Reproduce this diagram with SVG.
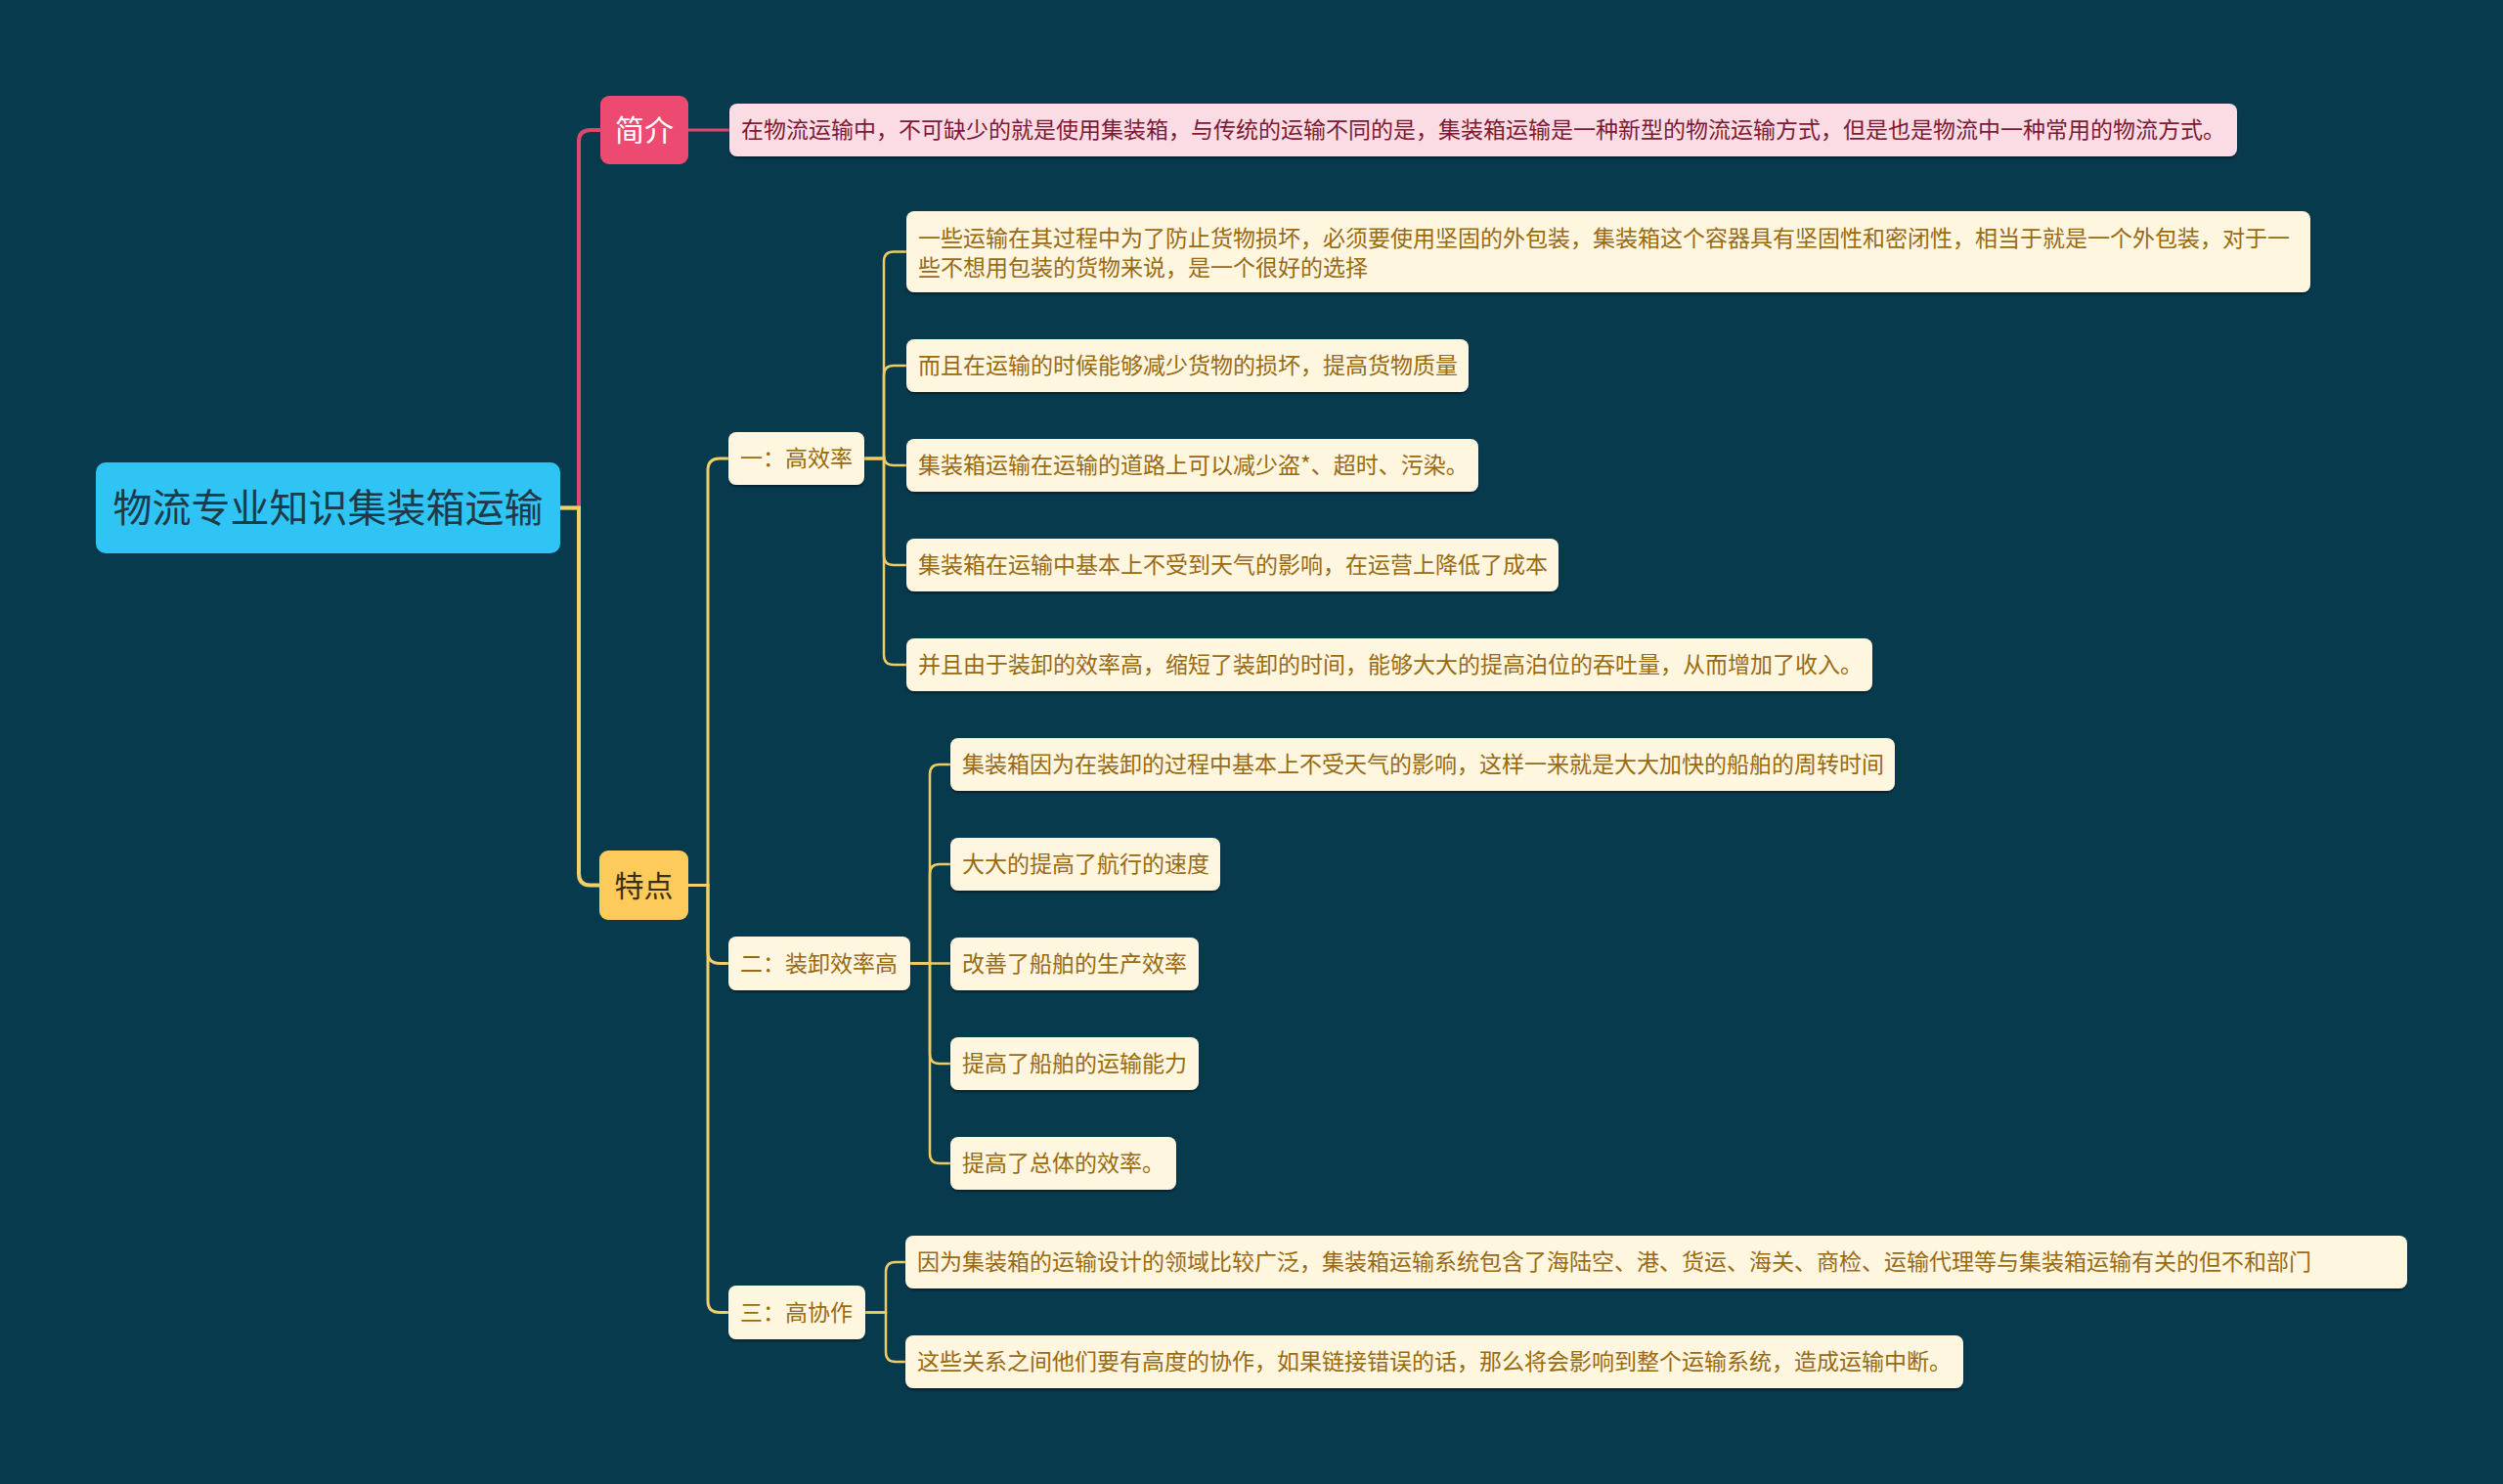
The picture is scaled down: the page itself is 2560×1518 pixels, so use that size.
<svg xmlns="http://www.w3.org/2000/svg" width="2560" height="1518" viewBox="0 0 2560 1518">
<defs>
<filter id="sh" x="-5%" y="-20%" width="110%" height="150%">
<feDropShadow dx="0" dy="2" stdDeviation="1.2" flood-color="#000" flood-opacity="0.45"/>
</filter>
<style>
text{font-family:"Noto Sans CJK SC","Noto Sans",sans-serif;dominant-baseline:central}
.leaf rect{fill:#fef6df;filter:url(#sh)}
.leaf text{font-size:23px;fill:#9a6a12}
.sub rect{fill:#fef6df;filter:url(#sh)}
.sub text{font-size:23px;fill:#9a6a12}
.c1{fill:none;stroke:#f2cf68;stroke-width:4;stroke-linecap:round}
.c2{fill:none;stroke:#f2cf68;stroke-width:3}
.c3{fill:none;stroke:#efcb66;stroke-width:2.5}
.pk{fill:none;stroke:#de476e;stroke-width:4}
.pk2{fill:none;stroke:#de476e;stroke-width:3}
</style>
</defs>
<rect width="2560" height="1518" fill="#083a4e"/>

<g id="connectors">
<path class="pk" d="M573,519.5 H592 V145 Q592,133 604,133 H614"/>
<path class="c1" d="M573,519.5 H592 V893.5 Q592,905.5 604,905.5 H613"/>
<path class="pk2" d="M704,133 H746"/>
<path class="c2" d="M704,905.5 H724 V481 Q724,469 736,469 H745"/>
<path class="c2" d="M704,905.5 H724 V973.5 Q724,985.5 736,985.5 H745"/>
<path class="c2" d="M704,905.5 H724 V1330.5 Q724,1342.5 736,1342.5 H745"/>
<path class="c3" d="M884,469 H904 V267.5 Q904,257.5 914,257.5 H927"/>
<path class="c3" d="M884,469 H904 V384 Q904,374 914,374 H927"/>
<path class="c3" d="M884,469 H904 V466 Q904,476 914,476 H927"/>
<path class="c3" d="M884,469 H904 V568 Q904,578 914,578 H927"/>
<path class="c3" d="M884,469 H904 V670 Q904,680 914,680 H927"/>
<path class="c3" d="M931,985.5 H951 V792 Q951,782 961,782 H972"/>
<path class="c3" d="M931,985.5 H951 V894 Q951,884 961,884 H972"/>
<path class="c3" d="M931,985.5 H972"/>
<path class="c3" d="M931,985.5 H951 V1078 Q951,1088 961,1088 H972"/>
<path class="c3" d="M931,985.5 H951 V1180 Q951,1190 961,1190 H972"/>
<path class="c3" d="M885,1342.5 H906 V1301 Q906,1291 916,1291 H926"/>
<path class="c3" d="M885,1342.5 H906 V1383 Q906,1393 916,1393 H926"/>
</g>

<g id="root">
<rect x="98" y="473" width="475" height="93" rx="10" fill="#2fc4f3"/>
<text x="335.5" y="516.5" font-size="40" fill="#1e3a48" text-anchor="middle">物流专业知识集装箱运输</text>
</g>

<g id="jianjie">
<rect x="614" y="98" width="90" height="70" rx="9" fill="#ec4a70"/>
<text x="659" y="131" font-size="30" fill="#ffffff" text-anchor="middle">简介</text>
</g>

<g id="intro">
<rect x="746" y="106" width="1542" height="54" rx="8" fill="#fcdce4" filter="url(#sh)"/>
<text x="758" y="131" font-size="23" fill="#7d1a33">在物流运输中，不可缺少的就是使用集装箱，与传统的运输不同的是，集装箱运输是一种新型的物流运输方式，但是也是物流中一种常用的物流方式。</text>
</g>

<g id="tedian">
<rect x="613" y="870" width="91" height="71" rx="9" fill="#fdcb5c"/>
<text x="658.5" y="903.5" font-size="30" fill="#3a2e10" text-anchor="middle">特点</text>
</g>

<g id="gaoxiaolv" class="sub">
<rect x="745" y="442" width="139" height="54" rx="8"/>
<text x="757" y="467">一：高效率</text>
</g>

<g id="zhuangxie" class="sub">
<rect x="745" y="958" width="186" height="55" rx="8"/>
<text x="757" y="983.5">二：装卸效率高</text>
</g>

<g id="gaoxiezuo" class="sub">
<rect x="745" y="1315" width="140" height="55" rx="8"/>
<text x="757" y="1340.5">三：高协作</text>
</g>

<g id="leaf1" class="leaf">
<rect x="927" y="216" width="1436" height="83" rx="8"/>
<text x="939" y="242">一些运输在其过程中为了防止货物损坏，必须要使用坚固的外包装，集装箱这个容器具有坚固性和密闭性，相当于就是一个外包装，对于一</text>
<text x="939" y="272">些不想用包装的货物来说，是一个很好的选择</text>
</g>
<g id="leaf2" class="leaf">
<rect x="927" y="347" width="575" height="54" rx="8"/>
<text x="939" y="372">而且在运输的时候能够减少货物的损坏，提高货物质量</text>
</g>
<g id="leaf3" class="leaf">
<rect x="927" y="449" width="585" height="54" rx="8"/>
<text x="939" y="474">集装箱运输在运输的道路上可以减少盗*、超时、污染。</text>
</g>
<g id="leaf4" class="leaf">
<rect x="927" y="551" width="667" height="54" rx="8"/>
<text x="939" y="576">集装箱在运输中基本上不受到天气的影响，在运营上降低了成本</text>
</g>
<g id="leaf5" class="leaf">
<rect x="927" y="653" width="988" height="54" rx="8"/>
<text x="939" y="678">并且由于装卸的效率高，缩短了装卸的时间，能够大大的提高泊位的吞吐量，从而增加了收入。</text>
</g>

<g id="leaf6" class="leaf">
<rect x="972" y="755" width="966" height="54" rx="8"/>
<text x="984" y="780">集装箱因为在装卸的过程中基本上不受天气的影响，这样一来就是大大加快的船舶的周转时间</text>
</g>
<g id="leaf7" class="leaf">
<rect x="972" y="857" width="276" height="54" rx="8"/>
<text x="984" y="882">大大的提高了航行的速度</text>
</g>
<g id="leaf8" class="leaf">
<rect x="972" y="959" width="254" height="54" rx="8"/>
<text x="984" y="984">改善了船舶的生产效率</text>
</g>
<g id="leaf9" class="leaf">
<rect x="972" y="1061" width="254" height="54" rx="8"/>
<text x="984" y="1086">提高了船舶的运输能力</text>
</g>
<g id="leaf10" class="leaf">
<rect x="972" y="1163" width="231" height="54" rx="8"/>
<text x="984" y="1188">提高了总体的效率。</text>
</g>

<g id="leaf11" class="leaf">
<rect x="926" y="1264" width="1536" height="54" rx="8"/>
<text x="938" y="1289">因为集装箱的运输设计的领域比较广泛，集装箱运输系统包含了海陆空、港、货运、海关、商检、运输代理等与集装箱运输有关的但不和部门</text>
</g>
<g id="leaf12" class="leaf">
<rect x="926" y="1366" width="1082" height="54" rx="8"/>
<text x="938" y="1391">这些关系之间他们要有高度的协作，如果链接错误的话，那么将会影响到整个运输系统，造成运输中断。</text>
</g>
</svg>
